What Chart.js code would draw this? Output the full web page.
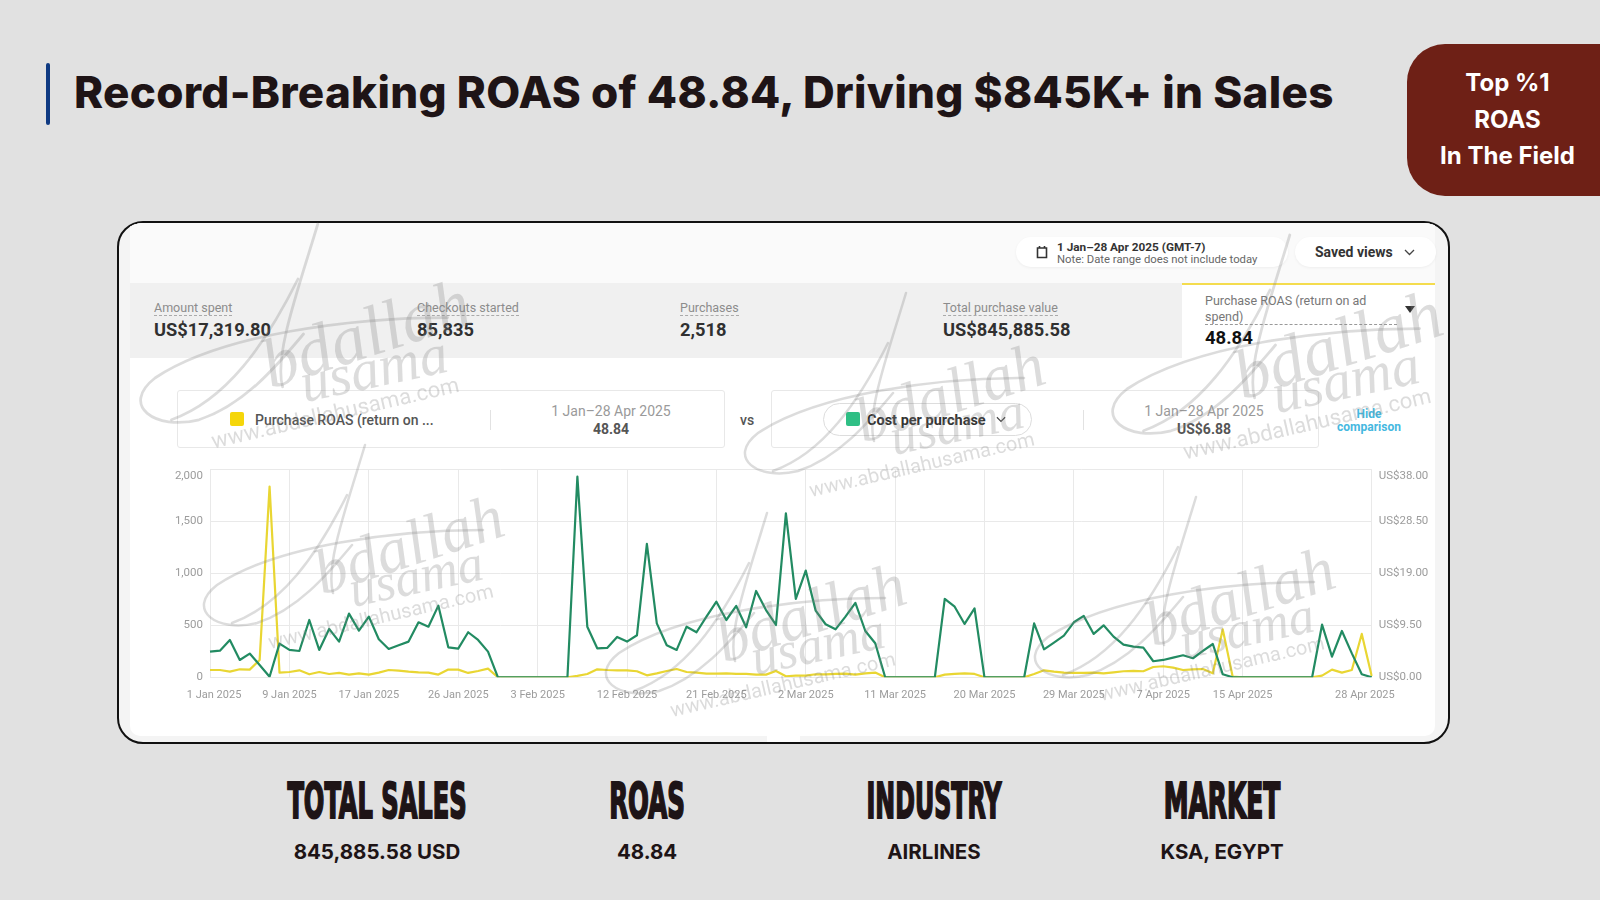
<!DOCTYPE html>
<html>
<head>
<meta charset="utf-8">
<title>Record-Breaking ROAS</title>
<script src="https://cdn.jsdelivr.net/npm/chart.js@4"></script>
<style>
html, body { margin: 0; padding: 0; }
body { width: 1600px; height: 900px; background: #e1e1e1; overflow: hidden; position: relative; font-family: Roboto, sans-serif; }
.abs { position: absolute; white-space: nowrap; }
#titleBar { left: 46px; top: 63px; width: 4px; height: 62px; background: #0f3a82; border-radius: 2px; }
#title { left: 74px; top: 63px; font: 800 44px/58px Inter, sans-serif; color: #1e1416; letter-spacing: 0.3px; }
#badge { left: 1407px; top: 44px; width: 193px; height: 152px; background: #6e2016; border-radius: 38px 0 0 38px; color: #fff; text-align: center; font: 700 24px/36.5px Inter, sans-serif; padding: 21px 0 0 8px; box-sizing: border-box; }
#card { left: 117px; top: 221px; width: 1333px; height: 523px; background: #f4f4f4; border: 2px solid #111; border-radius: 26px; box-sizing: border-box; overflow: hidden; }
#screen { left: 11px; top: 0; width: 1305px; height: 513px; background: #fff; border-radius: 0 0 10px 10px; }
#screenTop { left: 0; top: 0; width: 1305px; height: 60px; background: #fafafa; }
#band { left: 0; top: 60px; width: 1052px; height: 75px; background: #f0f0f0; }
#panel { left: 1052px; top: 60px; width: 253px; height: 75px; background: #fff; border-top: 2px solid #f4dc4e; box-sizing: border-box; }
#notch { left: 637px; top: 513px; width: 33px; height: 7px; background: #fff; }
.pill { background: #fff; border-radius: 15px; height: 30px; top: 237px; box-shadow: 0 1px 3px rgba(0,0,0,.05); }
.metricLabel { font-size: 12.5px; color: #8c8c8c; border-bottom: 1px dashed #aaa; line-height: 15px; }
.metricValue { font-size: 18.3px; font-weight: 700; color: #303030; }
.box { border: 1px solid #e8e8e8; border-radius: 3px; height: 58px; top: 390px; box-sizing: border-box; background: #fff; }
.swatch { width: 14px; height: 14px; top: 412px; border-radius: 2px; }
.divider { width: 1px; height: 20px; top: 410px; background: #e2e2e2; }
.dateText { font-size: 14px; color: #9a9a9a; transform: translateX(-50%); top: 403px; }
.dateValue { font-size: 14px; font-weight: 700; color: #555; transform: translateX(-50%); top: 421px; }
.heading { font: 700 44px/44px "Liberation Sans Narrow", "DejaVu Sans Condensed", sans-serif; color: #1e1416; -webkit-text-stroke: 1.8px #1e1416; top: 779px; }
.sub { font: 700 20.5px/26px Inter, sans-serif; color: #1e1416; transform: translateX(-50%); top: 839px; }
#chartBox { left: 150px; top: 455px; width: 1282px; height: 255px; }
#marks { left: 0; top: 0; width: 1600px; height: 900px; pointer-events: none; }
</style>
</head>
<body>
<div class="abs" id="titleBar"></div>
<div class="abs" id="title">Record-Breaking ROAS of 48.84, Driving $845K+ in Sales</div>
<div class="abs" id="badge">Top %1<br>ROAS<br>In The Field</div>

<div class="abs" id="card">
  <div class="abs" id="screen">
    <div class="abs" id="screenTop"></div>
    <div class="abs" id="band"></div>
    <div class="abs" id="panel"></div>
    <div class="abs" id="notch"></div>
  </div>
</div>

<!-- barra superior -->
<div class="abs pill" style="left:1016px;width:272px"></div>
<div class="abs pill" style="left:1295px;width:141px"></div>
<svg class="abs" style="left:1036px;top:245px" width="12" height="14" viewBox="0 0 12 14"><path d="M1.5 3h9v9.5h-9zM3.5 1v2M8.5 1v2" fill="none" stroke="#333" stroke-width="1.6"/></svg>
<div class="abs" style="left:1057px;top:240px;font-size:11.8px;font-weight:700;color:#333">1 Jan–28 Apr 2025 (GMT-7)</div>
<div class="abs" style="left:1057px;top:253px;font-size:11.3px;color:#666">Note: Date range does not include today</div>
<div class="abs" style="left:1315px;top:244px;font-size:14px;font-weight:700;color:#333">Saved views</div>
<svg class="abs" style="left:1404px;top:249px" width="11" height="7" viewBox="0 0 11 7"><path d="M1 1l4.500 4.500L10 1" fill="none" stroke="#444" stroke-width="1.300"/></svg>

<!-- metricas -->
<div class="abs metricLabel" style="left:154px;top:300px">Amount spent</div>
<div class="abs metricValue" style="left:154px;top:319px">US$17,319.80</div>
<div class="abs metricLabel" style="left:417px;top:300px">Checkouts started</div>
<div class="abs metricValue" style="left:417px;top:319px">85,835</div>
<div class="abs metricLabel" style="left:680px;top:300px">Purchases</div>
<div class="abs metricValue" style="left:680px;top:319px">2,518</div>
<div class="abs metricLabel" style="left:943px;top:300px">Total purchase value</div>
<div class="abs metricValue" style="left:943px;top:319px">US$845,885.58</div>
<div class="abs" style="left:1205px;top:293px;width:192px;height:31px;white-space:normal;font-size:12.5px;line-height:15.500px;color:#777;border-bottom:1px dashed #999">Purchase ROAS (return on ad spend)</div>
<div class="abs" style="left:1205px;top:327px;font-size:18.500px;font-weight:700;color:#111">48.84</div>
<svg class="abs" style="left:1405px;top:306px" width="10" height="7"><path d="M0 0h10L5 7z" fill="#333"/></svg>

<!-- comparacao -->
<div class="abs box" style="left:177px;width:548px"></div>
<div class="abs swatch" style="left:230px;background:#f5d60a"></div>
<div class="abs" style="left:255px;top:412px;font-size:14px;font-weight:500;color:#555">Purchase ROAS (return on ...</div>
<div class="abs divider" style="left:490px"></div>
<div class="abs dateText" style="left:611px">1 Jan–28 Apr 2025</div>
<div class="abs dateValue" style="left:611px">48.84</div>
<div class="abs" style="left:740px;top:412px;font-size:14px;font-weight:500;color:#555">vs</div>
<div class="abs box" style="left:771px;width:548px"></div>
<div class="abs" style="left:823px;top:403px;width:209px;height:33px;border:1px solid #ddd;border-radius:17px;box-sizing:border-box"></div>
<div class="abs swatch" style="left:846px;background:#2fbf85"></div>
<div class="abs" style="left:867px;top:412px;font-size:14.500px;font-weight:700;color:#333">Cost per purchase</div>
<svg class="abs" style="left:996px;top:416px" width="10" height="7" viewBox="0 0 11 7"><path d="M1 1l4.500 4.500L10 1" fill="none" stroke="#444" stroke-width="1.300"/></svg>
<div class="abs divider" style="left:1083px"></div>
<div class="abs dateText" style="left:1204px">1 Jan–28 Apr 2025</div>
<div class="abs dateValue" style="left:1204px">US$6.88</div>
<div class="abs" style="left:1369px;top:408px;transform:translateX(-50%);font-size:12px;line-height:12.500px;font-weight:700;color:#45b8e0;text-align:center">Hide<br>comparison</div>

<!-- grafico -->
<div class="abs" id="chartBox"><canvas id="chart"></canvas></div>

<!-- rodape -->
<div class="abs heading" style="left:377px;transform:translateX(-50%) scale(.61,1.15)">TOTAL SALES</div>
<div class="abs heading" style="left:647px;transform:translateX(-50%) scale(.62,1.15)">ROAS</div>
<div class="abs heading" style="left:934px;transform:translateX(-50%) scale(.60,1.15)">INDUSTRY</div>
<div class="abs heading" style="left:1222px;transform:translateX(-50%) scale(.63,1.15)">MARKET</div>
<div class="abs sub" style="left:377px">845,885.58 USD</div>
<div class="abs sub" style="left:647px">48.84</div>
<div class="abs sub" style="left:934px">AIRLINES</div>
<div class="abs sub" style="left:1222px">KSA, EGYPT</div>

<svg class="abs" id="marks" xmlns="http://www.w3.org/2000/svg"></svg>

<script>
// --- Dados ---
const monthNames = ['Jan', 'Feb', 'Mar', 'Apr'];
const monthDays = [31, 28, 31, 28];

// ROAS diario (eixo esquerdo)
const roasValues = [
    70, 70, 54, 77, 74, 167, 1833, 45, 51, 67,
    29, 51, 32, 42, 26, 38, 26, 45, 70, 64,
    54, 48, 45, 26, 74, 74, 42, 61, 83, 0,
    0, 0, 0, 0, 0, 0, 0, 13, 32, 77,
    70, 67, 67, 58, 19, 38, 61, 80, 51, 45,
    35, 35, 38, 32, 32, 26, 26, 61, 10, 16,
    16, 29, 29, 32, 35, 26, 38, 45, 0, 0,
    0, 0, 0, 0, 26, 32, 38, 32, 0, 0,
    0, 0, 0, 32, 67, 54, 45, 42, 42, 45,
    38, 48, 58, 61, 58, 99, 106, 93, 70, 77,
    80, 38, 461, 6, 0, 0, 0, 0, 0, 0,
    0, 0, 16, 74, 45, 70, 417, 13
];

// Custo por compra em US$ (eixo direito)
const costValues = [
    4.69, 4.86, 6.82, 3.17, 4.33, 2.26, 0.11, 6.16, 5.00, 4.81,
    10.47, 5.00, 8.84, 6.52, 11.63, 8.53, 11.08, 6.94, 5.17, 5.85,
    6.52, 10.05, 9.25, 13.09, 5.47, 5.24, 8.23, 6.82, 4.69, 0,
    0, 0, 0, 0, 0, 0, 0, 36.65, 9.25, 5.30,
    5.36, 7.37, 6.52, 7.68, 24.36, 9.86, 5.85, 5.00, 9.25, 8.23,
    11.08, 13.81, 10.47, 13.03, 9.14, 15.77, 12.29, 9.56, 29.96, 14.31,
    19.49, 12.18, 9.69, 8.76, 11.08, 13.59, 8.46, 6.21, 0, 0,
    0, 0, 0, 0, 14.31, 12.90, 9.75, 12.60, 0, 0,
    0, 0, 0, 9.86, 5.11, 6.33, 7.60, 10.05, 11.21, 7.92,
    9.50, 7.43, 5.97, 5.61, 5.42, 2.93, 3.17, 3.59, 4.03, 3.48,
    4.81, 6.08, 0.55, 0, 0, 0, 0, 0, 0, 0,
    0, 0, 9.61, 3.78, 8.46, 4.37, 0.55, 0
];

const axisDates = [
    '1 Jan 2025', '9 Jan 2025', '17 Jan 2025', '26 Jan 2025', '3 Feb 2025',
    '12 Feb 2025', '21 Feb 2025', '2 Mar 2025', '11 Mar 2025', '20 Mar 2025',
    '29 Mar 2025', '7 Apr 2025', '15 Apr 2025', '28 Apr 2025'
];
const leftTickLabels = ['0', '500', '1,000', '1,500', '2,000'];
const rightTickLabels = ['US$0.00', 'US$9.50', 'US$19.00', 'US$28.50', 'US$38.00'];

// Posicoes da marca d'agua: x, y, escala
const stampOrigins = [[133, 224, 1.1], [738, 293, 1], [1105, 235, 1.1], [197, 445, 1], [599, 513, 1], [1028, 497, 1]];

const dayLabels = [];
monthNames.forEach((month, m) => {
    for (let d = 1; d <= monthDays[m]; d++) dayLabels.push(`${d} ${month} 2025`);
});

const tickColor = '#9c9c9c';
const gridColor = '#e9e9e9';

// o rotulo do topo fica abaixo da linha de grade, como no original
function yTick(labels) {
    return (value, index) => index === labels.length - 1 ? ['', labels[index]] : labels[index];
}

function xTick(value, index) {
    const label = dayLabels[index];
    if (!axisDates.includes(label)) return '';
    if (index === 0) return '   ' + label;
    if (index === dayLabels.length - 1) return label + '     ';
    return label;
}

function fixYAxis(width) {
    return scale => {
        scale.width = width;
        scale.paddingTop = 0;
        scale.paddingBottom = 0;
    };
}

new Chart(document.getElementById('chart'), {
    type: 'line',
    data: {
        labels: dayLabels,
        datasets: [
            { label: 'Cost per purchase', data: costValues, yAxisID: 'yCost', borderColor: '#228b62', borderWidth: 2.2, order: 1 },
            { label: 'Purchase ROAS (return on ad spend)', data: roasValues, yAxisID: 'yRoas', borderColor: '#e9d633', borderWidth: 2.2, order: 2 }
        ]
    },
    options: {
        responsive: true,
        maintainAspectRatio: false,
        animation: false,
        elements: { point: { radius: 0 }, line: { tension: 0, borderJoinStyle: 'round' } },
        layout: { padding: { top: 14.3, left: 0, right: 0, bottom: 0 } },
        plugins: { legend: { display: false }, tooltip: { enabled: false } },
        scales: {
            x: {
                grid: {
                    drawTicks: false,
                    color: ctx => axisDates.includes(dayLabels[ctx.index]) ? gridColor : 'transparent'
                },
                border: { display: false },
                ticks: { autoSkip: false, maxRotation: 0, padding: 11, font: { family: 'Roboto', size: 11 }, color: tickColor, callback: xTick },
                afterFit: scale => { scale.height = 32.7; }
            },
            yRoas: {
                position: 'left',
                min: 0, max: 2000,
                grid: { drawTicks: false, color: gridColor },
                border: { display: false },
                ticks: { stepSize: 500, padding: 7, font: { family: 'Roboto', size: 11.5 }, color: tickColor, callback: yTick(leftTickLabels) },
                afterFit: fixYAxis(60)
            },
            yCost: {
                position: 'right',
                min: 0, max: 38,
                grid: { display: false, drawTicks: false },
                border: { display: false },
                ticks: { stepSize: 9.5, padding: 7, font: { family: 'Roboto', size: 11.5 }, color: tickColor, callback: yTick(rightTickLabels) },
                afterFit: fixYAxis(60.3)
            }
        }
    }
});

// --- Marca d'agua ---
const marks = document.getElementById('marks');
marks.innerHTML = stampOrigins.map(([x, y, k]) => `
    <g transform="translate(${x} ${y}) scale(${k})" fill="none" stroke="rgba(130,130,130,.28)" stroke-width="2.500" stroke-linecap="round">
        <path d="M168 0 C150 60 128 120 136 148"/>
        <path d="M150 50 C120 110 85 160 35 178"/>
        <path d="M286 85 C200 85 80 100 20 140 C-12 165 20 188 60 178 C100 165 130 130 155 100"/>
        <g stroke="none" fill="rgba(130,130,130,.28)">
            <text transform="translate(125 150) rotate(-18)" font-family="Liberation Serif" font-style="italic" font-size="64">bdallah</text>
            <text transform="translate(156 162) rotate(-12)" font-family="Liberation Serif" font-style="italic" font-size="52">usama</text>
            <text transform="translate(73 204) rotate(-13)" font-family="Roboto" font-size="20">www.abdallahusama.com</text>
        </g>
    </g>`).join('');
</script>
</body>
</html>
